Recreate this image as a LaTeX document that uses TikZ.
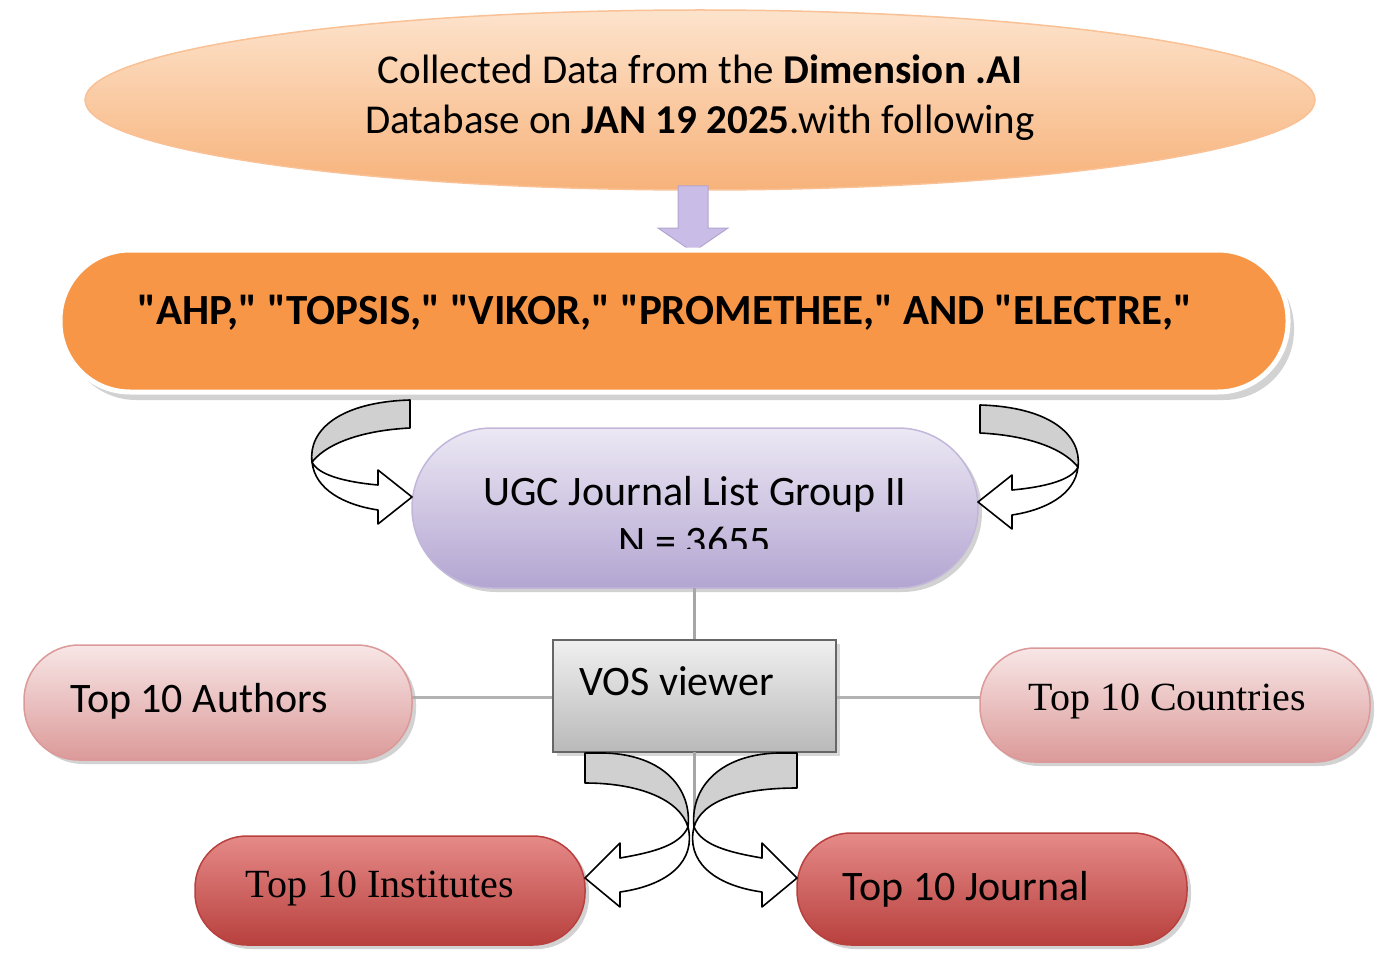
\documentclass[tikz,border=0pt]{standalone}
\usepackage{fontspec}
\setmainfont{Carlito}[Ligatures=TeXOff]
\newfontfamily\serif{Liberation Serif}
\usetikzlibrary{shadows}
\definecolor{orA}{HTML}{FDE3CC}
\definecolor{orB}{HTML}{F7B27A}
\definecolor{orC}{HTML}{F79646}
\definecolor{lvA}{HTML}{ECE8F4}
\definecolor{lvB}{HTML}{B3A5D1}
\definecolor{lvC}{HTML}{C9BCE6}
\definecolor{pkA}{HTML}{F8E6E6}
\definecolor{pkB}{HTML}{DB9A99}
\definecolor{rdA}{HTML}{E58A88}
\definecolor{rdB}{HTML}{B8403D}
\definecolor{ribbon}{HTML}{D0D0D0}
\begin{document}
\begin{tikzpicture}[x=1pt,y=-1pt,
  txt/.style={font=\fontsize{42}{50}\selectfont,align=center},
  pill/.style={rounded corners=52pt,draw=#1,line width=1.5pt,drop shadow={shadow xshift=4pt,shadow yshift=-4pt,fill=black!35}},
  rib/.style={draw=black,line width=1.6pt,line join=round},
  conn/.style={draw=gray!70,line width=3pt}]
\useasboundingbox (0,0) rectangle (1380,960);
% top ellipse
\fill[top color=orA,bottom color=orB,draw=orB!80!white,line width=1.5pt] (700,100) ellipse [x radius=615,y radius=90];
\node[txt,font=\fontsize{41}{50}\selectfont] (top) at (700,98) {Collected Data from the \textbf{Dimension .AI}\\Database on \textbf{JAN 19 2025}.with following};
% down arrow
\filldraw[fill=lvC,draw=lvB,line width=1pt] (678,186) -- (708,186) -- (708,228) -- (728,228) -- (693,252) -- (658,228) -- (678,228) -- cycle;
% orange capsule
\fill[gray!35] (66,258) [rounded corners=70pt] rectangle (1294,400);
\filldraw[fill=orC,draw=white,line width=5pt,rounded corners=70pt] (60,250) rectangle (1288,392);
\node[txt,font=\bfseries\fontsize{43}{50}\selectfont] (kw) at (665,313) {"AHP," "TOPSIS," "VIKOR," "PROMETHEE," AND "ELECTRE,"};
% UGC
\path[pill=lvB!80,top color=lvA,bottom color=lvB,rounded corners=80pt] (412,428) rectangle (978,588);
\begin{scope}
\clip (412,440) rectangle (978,548);
\node[txt,font=\fontsize{42}{50}\selectfont] (ugc) at (695,516) {UGC Journal List Group II\\N = 3655};
\end{scope}
% left loop arrow
\fill[ribbon,rib] (410,400) .. controls (340,402) and (308,430) .. (312,462) .. controls (330,440) and (370,430) .. (410,428) -- cycle;
\filldraw[fill=white,rib] (312,462) .. controls (315,490) and (345,505) .. (378,510) -- (378,524) -- (412,497) -- (378,470) -- (378,485) .. controls (345,482) and (318,475) .. (312,462);
\begin{scope}[shift={(0,8)}]
\fill[ribbon,rib] (980,397) .. controls (1050,399) and (1082,427) .. (1078,459) .. controls (1060,437) and (1020,427) .. (980,425) -- cycle;
\filldraw[fill=white,rib] (1078,459) .. controls (1075,487) and (1045,502) .. (1012,507) -- (1012,521) -- (978,494) -- (1012,467) -- (1012,482) .. controls (1045,479) and (1072,472) .. (1078,459);
\end{scope}
% VOS
\coordinate (ugcb) at (694,588);
\coordinate (vost) at (694,640);
\draw[conn] (ugcb) -- (vost);
\draw[conn,gray!60] (412,697) -- (553,697);
\draw[conn,gray!60] (836,697) -- (980,697);
\path[draw=gray!80!black,line width=2pt,top color=gray!12,bottom color=gray!55,drop shadow={shadow xshift=4pt,shadow yshift=-4pt,fill=black!30}] (553,640) rectangle (836,752);
\node[txt,anchor=west] (vos) at (576,681) {VOS viewer};
% side pills
\path[pill=pkB,top color=pkA,bottom color=pkB,rounded corners=55pt] (24,645) rectangle (412,760);
\node[txt] (auth) at (199,701) {Top 10 Authors};
\path[pill=pkB,top color=pkA,bottom color=pkB,rounded corners=55pt] (980,648) rectangle (1370,762);
\node[txt,font=\serif\fontsize{40}{48}\selectfont] (ctry) at (1167,701) {Top 10 Countries};
\path[pill=rdB,top color=rdA,bottom color=rdB,rounded corners=52pt] (195,836) rectangle (585,945);
\node[txt,font=\serif\fontsize{40}{48}\selectfont] (inst) at (380,888) {Top 10 Institutes};
\path[pill=rdB,top color=rdA,bottom color=rdB,rounded corners=54pt] (797,833) rectangle (1187,945);
\node[txt] (jour) at (966,889) {Top 10 Journal};
% bottom arrows
\coordinate (vosb) at (694,752);
\coordinate (vosd) at (694,812);
\draw[conn] (vosb) -- (vosd);
\fill[ribbon,rib] (585,753) -- (605,753) .. controls (665,755) and (692,790) .. (688,827) .. controls (680,800) and (640,783) .. (585,783) -- cycle;
\filldraw[fill=white,rib] (688,827) .. controls (696,860) and (670,885) .. (620,892) -- (620,907) -- (585,878) -- (620,843) -- (620,858) .. controls (655,852) and (680,845) .. (688,827);
\begin{scope}[xshift=1382pt,xscale=-1]
\fill[ribbon,rib] (585,753) -- (605,753) .. controls (665,755) and (692,790) .. (688,827) .. controls (680,800) and (640,788) .. (585,788) -- cycle;
\filldraw[fill=white,rib] (688,827) .. controls (696,860) and (670,885) .. (620,892) -- (620,907) -- (585,878) -- (620,843) -- (620,858) .. controls (655,852) and (680,845) .. (688,827);
\end{scope}
\end{tikzpicture}
\end{document}
